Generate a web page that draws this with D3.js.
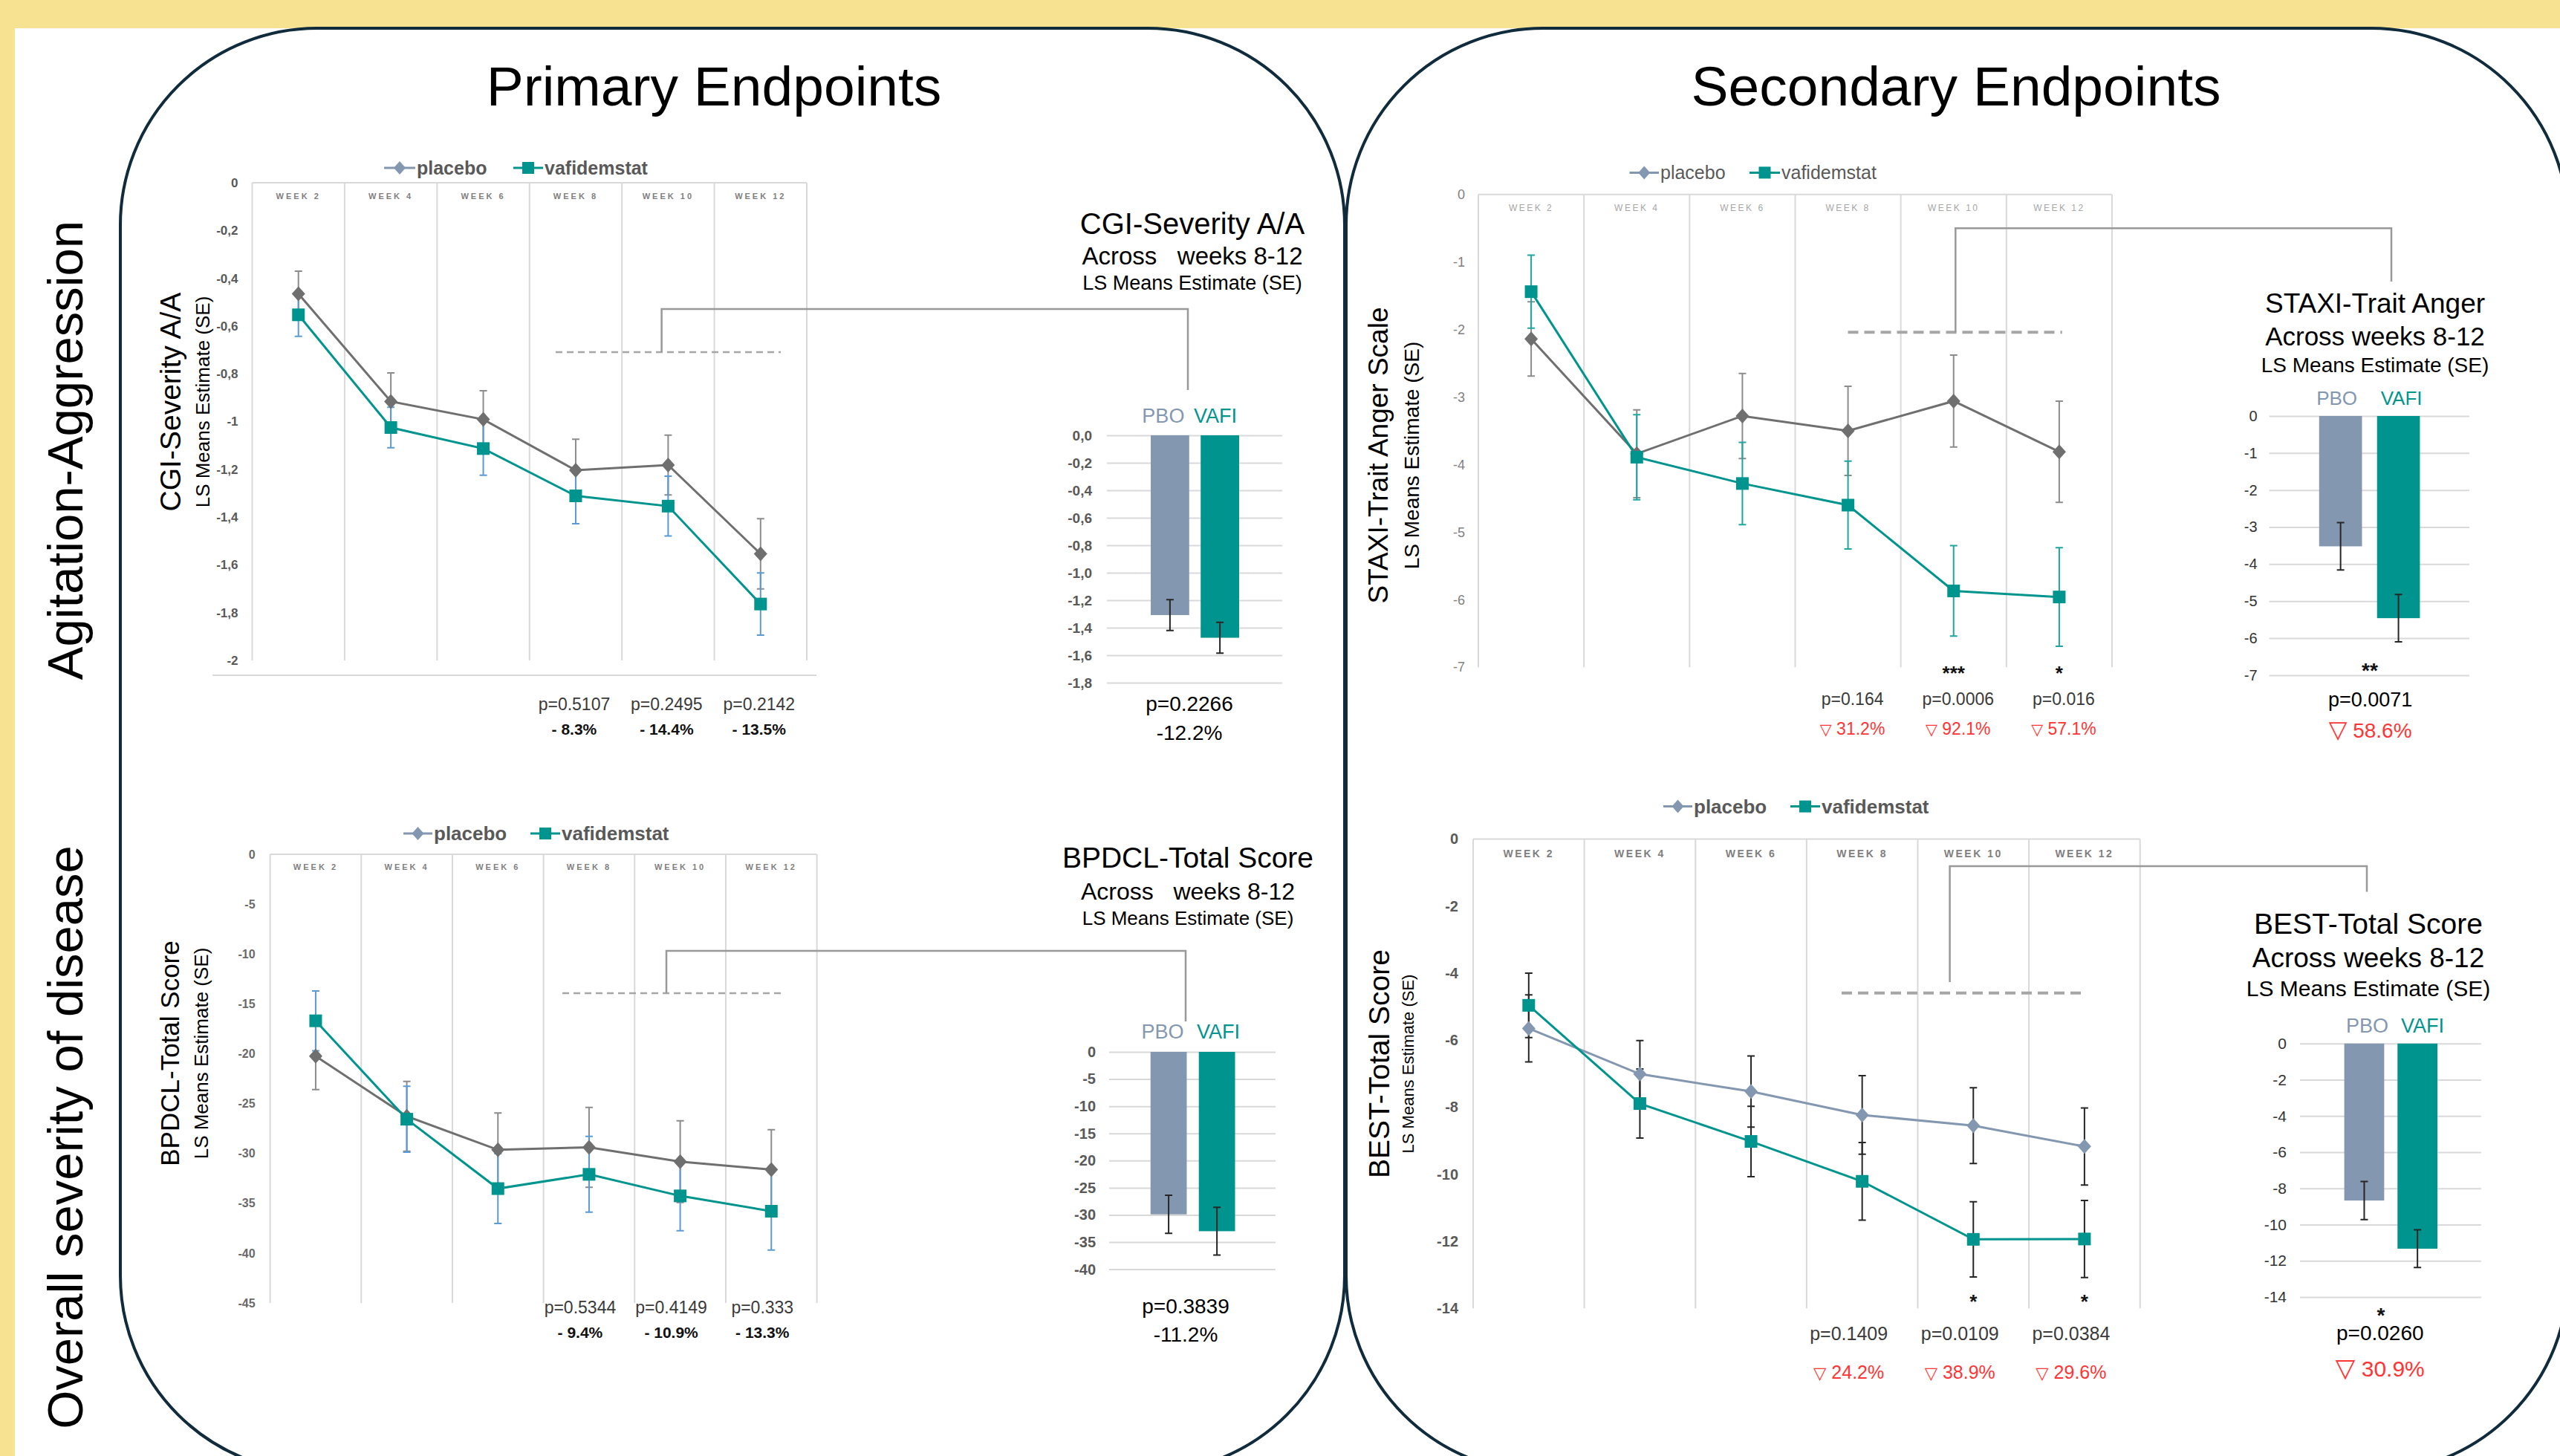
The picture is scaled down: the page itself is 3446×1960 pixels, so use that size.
<!DOCTYPE html>
<html><head><meta charset="utf-8">
<script src="https://cdn.jsdelivr.net/npm/d3@7"></script>
<style>
html,body{margin:0;padding:0;background:#fff;}
svg{display:block;font-family:"Liberation Sans",Arial,Helvetica,sans-serif;}
</style></head><body>
<svg id="chart" width="3446" height="1960"></svg>
<script>
// ---------------- DATA ----------------
const weeks = ["WEEK 2","WEEK 4","WEEK 6","WEEK 8","WEEK 10","WEEK 12"];
const seriesNames = ["placebo","vafidemstat"];
const barGroups = ["PBO","VAFI"];
const panelTitles = ["Primary Endpoints","Secondary Endpoints"];
const rowTitles = ["Agitation-Aggression","Overall severity of disease"];

// CGI-Severity A/A
const cgiPlacebo   = [-0.465,-0.916,-0.991,-1.204,-1.182,-1.554];
const cgiPlaceboSE = [0.095,0.12,0.12,0.13,0.125,0.147];
const cgiVafi      = [-0.553,-1.025,-1.113,-1.311,-1.354,-1.764];
const cgiVafiSE    = [0.09,0.085,0.112,0.117,0.125,0.13];
const cgiTickValues = [0,-0.2,-0.4,-0.6,-0.8,-1,-1.2,-1.4,-1.6,-1.8,-2];
const cgiTickLabels = ["0","-0,2","-0,4","-0,6","-0,8","-1","-1,2","-1,4","-1,6","-1,8","-2"];
const cgiPvals = ["p=0.5107","p=0.2495","p=0.2142"];
const cgiDiffs = ["- 8.3%","- 14.4%","- 13.5%"];
const cgiBar   = [-1.308,-1.473];
const cgiBarSE = [0.112,0.112];
const cgiBarTickValues = [0,-0.2,-0.4,-0.6,-0.8,-1.0,-1.2,-1.4,-1.6,-1.8];
const cgiBarTickLabels = ["0,0","-0,2","-0,4","-0,6","-0,8","-1,0","-1,2","-1,4","-1,6","-1,8"];
const cgiBarTitle = ["CGI-Severity A/A","Across   weeks 8-12","LS Means Estimate (SE)"];
const cgiBarP = "p=0.2266", cgiBarDiff = "-12.2%";

// BPDCL-Total Score
const bpdPlacebo   = [-20.25,-26.28,-29.64,-29.39,-30.83,-31.63];
const bpdPlaceboSE = [3.35,3.5,3.7,4.0,4.1,4.0];
const bpdVafi      = [-16.7,-26.57,-33.53,-32.1,-34.26,-35.8];
const bpdVafiSE    = [3.0,3.3,3.5,3.8,3.5,3.9];
const bpdTickValues = [0,-5,-10,-15,-20,-25,-30,-35,-40,-45];
const bpdTickLabels = ["0","-5","-10","-15","-20","-25","-30","-35","-40","-45"];
const bpdPvals = ["p=0.5344","p=0.4149","p=0.333"];
const bpdDiffs = ["- 9.4%","- 10.9%","- 13.3%"];
const bpdBar   = [-29.9,-33.0];
const bpdBarSE = [3.5,4.4];
const bpdBarTickValues = [0,-5,-10,-15,-20,-25,-30,-35,-40];
const bpdBarTickLabels = ["0","-5","-10","-15","-20","-25","-30","-35","-40"];
const bpdBarTitle = ["BPDCL-Total Score","Across   weeks 8-12","LS Means Estimate (SE)"];
const bpdBarP = "p=0.3839", bpdBarDiff = "-11.2%";

// STAXI-Trait Anger
const staPlacebo   = [-2.14,-3.84,-3.28,-3.50,-3.06,-3.81];
const staPlaceboSE = [0.55,0.65,0.63,0.66,0.68,0.75];
const staVafi      = [-1.44,-3.89,-4.28,-4.60,-5.87,-5.96];
const staVafiSE    = [0.54,0.63,0.61,0.65,0.67,0.73];
const staTickValues = [0,-1,-2,-3,-4,-5,-6,-7];
const staTickLabels = ["0","-1","-2","-3","-4","-5","-6","-7"];
const staPvals = ["p=0.164","p=0.0006","p=0.016"];
const staDiffs = ["31.2%","92.1%","57.1%"];
const staStars = ["","***","*"];
const staBar   = [-3.52,-5.46];
const staBarSE = [0.64,0.64];
const staBarTickValues = [0,-1,-2,-3,-4,-5,-6,-7];
const staBarTickLabels = ["0","-1","-2","-3","-4","-5","-6","-7"];
const staBarTitle = ["STAXI-Trait Anger","Across weeks 8-12","LS Means Estimate (SE)"];
const staBarP = "p=0.0071", staBarDiff = "58.6%", staBarStar = "**";

// BEST-Total Score
const bstPlacebo   = [-5.65,-7.01,-7.53,-8.23,-8.55,-9.17];
const bstPlaceboSE = [1.0,1.0,1.06,1.17,1.13,1.15];
const bstVafi      = [-4.96,-7.89,-9.02,-10.21,-11.94,-11.93];
const bstVafiSE    = [0.96,1.03,1.05,1.16,1.12,1.15];
const bstTickValues = [0,-2,-4,-6,-8,-10,-12,-14];
const bstTickLabels = ["0","-2","-4","-6","-8","-10","-12","-14"];
const bstPvals = ["p=0.1409","p=0.0109","p=0.0384"];
const bstDiffs = ["24.2%","38.9%","29.6%"];
const bstStars = ["","*","*"];
const bstBar   = [-8.67,-11.33];
const bstBarSE = [1.05,1.04];
const bstBarTickValues = [0,-2,-4,-6,-8,-10,-12,-14];
const bstBarTickLabels = ["0","-2","-4","-6","-8","-10","-12","-14"];
const bstBarTitle = ["BEST-Total Score","Across weeks 8-12","LS Means Estimate (SE)"];
const bstBarP = "p=0.0260", bstBarDiff = "30.9%", bstBarStar = "*";

// ---------------- STYLE ----------------
const TEAL = "#00948f", PBOC = "#8497b0", YELLOW = "#f6e290", NAVY = "#0f2b3c";
const RED = "#ff3535", GRID = "#d9d9d9", TRI = "DejaVu Sans, sans-serif";

const svg = d3.select("#chart");
svg.append("rect").attr("width",3446).attr("height",1960).attr("fill","#fff");
svg.append("rect").attr("x",0).attr("y",0).attr("width",3446).attr("height",38).attr("fill",YELLOW);
svg.append("rect").attr("x",0).attr("y",0).attr("width",20).attr("height",1960).attr("fill",YELLOW);

function txt(g, x, y, s, o = {}) {
  const t = g.append("text").attr("x", x).attr("y", y).text(s)
    .attr("font-size", o.size || 20).attr("fill", o.fill || "#000")
    .attr("text-anchor", o.anchor || "middle")
    .attr("font-weight", o.weight || "normal");
  if (o.ls) t.attr("letter-spacing", o.ls);
  if (o.pre) t.style("white-space", "pre");
  if (o.rotate) t.attr("transform", `rotate(-90 ${x} ${y})`);
  return t;
}
const diamond = (x, y, hw, hh) => `M${x},${y-hh}L${x+hw},${y}L${x},${y+hh}L${x-hw},${y}Z`;
const errPath = (x, a, b, w) => `M${x-w},${a}H${x+w}M${x},${a}V${b}M${x-w},${b}H${x+w}`;

// panels
[[162, 1648], [1812, 1645]].forEach(([px, pw]) => {
  svg.append("rect").attr("x", px).attr("y", 38).attr("width", pw).attr("height", 1944)
    .attr("rx", 265).attr("ry", 265).attr("fill", "none").attr("stroke", NAVY).attr("stroke-width", 4);
});
txt(svg, 961, 142, panelTitles[0], {size: 75});
txt(svg, 2633, 142, panelTitles[1], {size: 75});
txt(svg, 111, 606, rowTitles[0], {size: 67, rotate: true});
txt(svg, 111, 1531, rowTitles[1], {size: 67, rotate: true});

// ---------------- LINE CHART ----------------
function lineChart(c) {
  const g = svg.append("g");
  const x = d3.scaleBand().domain(weeks).range([c.x0, c.x1]);
  const cx = i => x(weeks[i]) + x.bandwidth() / 2;
  const tv = c.tickValues;
  const y = d3.scaleLinear().domain([tv[0], tv[tv.length - 1]]).range([c.yTop, c.yBot]);

  if (c.bottomLine) g.append("line").attr("x1", c.bottomLine[0]).attr("x2", c.bottomLine[1])
    .attr("y1", c.bottomLine[2]).attr("y2", c.bottomLine[2]).attr("stroke", GRID).attr("stroke-width", 2);
  g.append("line").attr("x1", c.x0).attr("x2", c.x1).attr("y1", c.yTop).attr("y2", c.yTop)
    .attr("stroke", GRID).attr("stroke-width", 2);
  g.selectAll(null).data(weeks.map(w => x(w)).concat([c.x1])).join("line")
    .attr("x1", d => d).attr("x2", d => d).attr("y1", c.yTop).attr("y2", c.yBot)
    .attr("stroke", GRID).attr("stroke-width", 2);
  g.selectAll(null).data(weeks).join("text")
    .attr("x", (d, i) => cx(i)).attr("y", c.weekY).attr("text-anchor", "middle")
    .attr("font-size", c.weekFont).attr("fill", c.weekColor).attr("font-weight", c.weekWeight)
    .attr("letter-spacing", c.weekLs).text(d => d);

  const ax = d3.axisLeft(y).tickValues(tv).tickFormat((d, i) => c.tickLabels[i]).tickSize(0).tickPadding(c.tickPad);
  const ag = g.append("g").attr("transform", `translate(${c.x0},0)`).call(ax);
  ag.select(".domain").remove();
  ag.attr("font-family", null).attr("font-size", null);
  ag.selectAll("text").attr("font-size", c.tickFont).attr("fill", c.tickColor).attr("font-weight", c.tickWeight);

  // dashed line & bracket
  const dy = y(c.dashValue);
  g.append("line").attr("x1", c.dashX[0]).attr("x2", c.dashX[1]).attr("y1", dy).attr("y2", dy)
    .attr("stroke", "#a6a6a6").attr("stroke-width", c.dashW).attr("stroke-dasharray", c.dashArr);
  const b = c.bracket;
  g.append("path").attr("d", `M${b[0]},${b[1] === null ? dy : b[1]}V${b[2]}H${b[3]}V${b[4]}`)
    .attr("fill", "none").attr("stroke", "#999").attr("stroke-width", 2.5);

  const series = [
    {vals: c.placebo, se: c.placeboSE, color: c.placeboColor, err: c.placeboErr, shape: "d"},
    {vals: c.vafi, se: c.vafiSE, color: TEAL, err: c.vafiErr, shape: "s"}];
  series.forEach(s => {
    g.selectAll(null).data(s.vals).join("path")
      .attr("d", (v, i) => errPath(cx(i), y(v + s.se[i]), y(v - s.se[i]), 5))
      .attr("fill", "none").attr("stroke", s.err).attr("stroke-width", 2);
  });
  series.forEach(s => {
    g.append("path").datum(s.vals)
      .attr("d", d3.line().x((v, i) => cx(i)).y(v => y(v)))
      .attr("fill", "none").attr("stroke", s.color).attr("stroke-width", 3);
  });
  series.forEach(s => {
    if (s.shape === "d")
      g.selectAll(null).data(s.vals).join("path").attr("d", (v, i) => diamond(cx(i), y(v), 9, 10)).attr("fill", s.color);
    else
      g.selectAll(null).data(s.vals).join("rect").attr("x", (v, i) => cx(i) - 8.5).attr("y", v => y(v) - 8.5)
        .attr("width", 17).attr("height", 17).attr("fill", s.color);
  });

  // legend
  [[c.legPl, PBOC, "d", seriesNames[0]], [c.legVf, TEAL, "s", seriesNames[1]]].forEach(([p, col, sh, name]) => {
    g.append("line").attr("x1", p[0]).attr("x2", p[1]).attr("y1", c.legY).attr("y2", c.legY)
      .attr("stroke", col).attr("stroke-width", 3);
    const m = (p[0] + p[1]) / 2;
    if (sh === "d") g.append("path").attr("d", diamond(m, c.legY, 8, 9)).attr("fill", col);
    else g.append("rect").attr("x", m - 8).attr("y", c.legY - 8).attr("width", 16).attr("height", 16).attr("fill", col);
    txt(g, p[1] + 2, c.legY + c.legFont * 0.35, name, {size: c.legFont, anchor: "start", fill: "#595959", weight: c.legWeight});
  });

  // axis titles
  txt(g, c.atX, c.atY, c.axisTitle, {size: c.atFont, rotate: true});
  txt(g, c.asX, c.atY, "LS Means Estimate (SE)", {size: c.asFont, rotate: true});

  // p-values
  g.selectAll(null).data(c.pvals).join("text")
    .attr("x", (d, i) => cx(3 + i) + c.pOff).attr("y", c.pY).attr("text-anchor", "middle")
    .attr("font-size", c.pFont).attr("fill", "#3a3a3a").text(d => d);
  if (c.red) {
    c.diffs.forEach((d, i) => {
      const t = g.append("text").attr("x", cx(3 + i) + c.pOff).attr("y", c.dY).attr("text-anchor", "middle")
        .attr("font-size", c.dFont).attr("fill", RED).style("white-space", "pre");
      t.append("tspan").attr("font-family", TRI).attr("font-size", c.dFont * 0.9).text("\u25BD");
      t.append("tspan").text(" " + d);
    });
  } else {
    g.selectAll(null).data(c.diffs).join("text")
      .attr("x", (d, i) => cx(3 + i) + c.pOff).attr("y", c.dY).attr("text-anchor", "middle")
      .attr("font-size", c.dFont).attr("font-weight", "bold").attr("fill", "#111")
      .style("white-space", "pre").text(d => d);
  }
  if (c.stars) {
    g.selectAll(null).data(c.stars).join("text")
      .attr("x", (d, i) => cx(3 + i)).attr("y", c.starY).attr("text-anchor", "middle")
      .attr("font-size", 26).attr("font-weight", "bold").attr("fill", "#111").text(d => d);
  }
}

// ---------------- BAR CHART ----------------
function barChart(c) {
  const g = svg.append("g");
  const x = d3.scaleBand().domain(barGroups).range([c.bx0, c.bx1]).paddingInner(c.pad);
  const tv = c.tickValues;
  const y = d3.scaleLinear().domain([tv[0], tv[tv.length - 1]]).range([c.y0, c.yMin]);
  const ax = d3.axisLeft(y).tickValues(tv).tickFormat((d, i) => c.tickLabels[i])
    .tickSize(-(c.gx1 - c.gx0)).tickPadding(c.tickPad);
  const ag = g.append("g").attr("transform", `translate(${c.gx0},0)`).call(ax);
  ag.select(".domain").remove();
  ag.attr("font-family", null).attr("font-size", null);
  ag.selectAll("line").attr("stroke", GRID).attr("stroke-width", 2);
  ag.selectAll("text").attr("font-size", c.tickFont).attr("fill", c.tickColor).attr("font-weight", c.tickWeight);

  const colors = [PBOC, TEAL];
  g.selectAll(null).data(c.vals).join("rect")
    .attr("x", (v, i) => x(barGroups[i])).attr("width", x.bandwidth())
    .attr("y", y(0)).attr("height", v => y(v) - y(0)).attr("fill", (v, i) => colors[i]);
  g.selectAll(null).data(c.vals).join("path")
    .attr("d", (v, i) => errPath(x(barGroups[i]) + x.bandwidth() / 2, y(v + c.se[i]), y(v - c.se[i]), 5))
    .attr("fill", "none").attr("stroke", "#262626").attr("stroke-width", 2);
  g.selectAll(null).data(barGroups).join("text")
    .attr("x", (d, i) => x(d) + x.bandwidth() / 2 + c.labOff[i]).attr("y", c.labY).attr("text-anchor", "middle")
    .attr("font-size", c.labFont).attr("fill", (d, i) => colors[i]).text(d => d);

  c.title.forEach((t, i) => txt(g, c.tcx, c.tY[i], t, {size: c.tFont[i], pre: true}));
  if (c.star) txt(g, c.starX, c.starY, c.star, {size: 28, weight: "bold", fill: "#111"});
  txt(g, c.pcx, c.pY, c.p, {size: c.pFont});
  if (c.red) {
    const t = g.append("text").attr("x", c.pcx).attr("y", c.dY).attr("text-anchor", "middle")
      .attr("font-size", c.dFont).attr("fill", RED).style("white-space", "pre");
    t.append("tspan").attr("font-family", TRI).attr("font-size", c.dFont * 1.15).text("\u25BD");
    t.append("tspan").text(" " + c.diff);
  } else {
    txt(g, c.pcx, c.dY, c.diff, {size: c.dFont});
  }
}

// ---------------- CHARTS ----------------
lineChart({
  placebo: cgiPlacebo, placeboSE: cgiPlaceboSE, vafi: cgiVafi, vafiSE: cgiVafiSE,
  tickValues: cgiTickValues, tickLabels: cgiTickLabels, pvals: cgiPvals, diffs: cgiDiffs,
  x0: 339.5, x1: 1086, yTop: 246, yBot: 889, bottomLine: [286, 1099, 909],
  weekY: 268, weekFont: 11, weekColor: "#7f7f7f", weekWeight: "bold", weekLs: 3,
  tickPad: 19, tickFont: 17, tickColor: "#595959", tickWeight: "bold",
  placeboColor: "#6f6f6f", placeboErr: "#8c8c8c", vafiErr: "#5b9bd5",
  dashValue: -0.709, dashX: [748, 1051], dashW: 2.5, dashArr: "9,6",
  bracket: [890.6, null, 416, 1599, 525],
  legY: 226, legPl: [517, 559], legVf: [691, 731], legFont: 25, legWeight: "bold",
  axisTitle: "CGI-Severity A/A", atX: 243, asX: 282, atY: 541, atFont: 39, asFont: 26,
  pOff: -2, pY: 956, pFont: 23, dY: 989, dFont: 21, red: false
});
barChart({
  vals: cgiBar, se: cgiBarSE, tickValues: cgiBarTickValues, tickLabels: cgiBarTickLabels,
  bx0: 1549, bx1: 1668, pad: 0.23, y0: 586, yMin: 919, gx0: 1490, gx1: 1726, tickPad: 20,
  tickFont: 19, tickColor: "#595959", tickWeight: "bold",
  labY: 569, labFont: 27, labOff: [-9, -6],
  title: cgiBarTitle, tcx: 1605, tY: [314.6, 356, 390], tFont: [40, 33, 27],
  p: cgiBarP, diff: cgiBarDiff, pcx: 1601, pY: 957, pFont: 28, dY: 996, dFont: 28, red: false
});

lineChart({
  placebo: bpdPlacebo, placeboSE: bpdPlaceboSE, vafi: bpdVafi, vafiSE: bpdVafiSE,
  tickValues: bpdTickValues, tickLabels: bpdTickLabels, pvals: bpdPvals, diffs: bpdDiffs,
  x0: 363.6, x1: 1099.6, yTop: 1150, yBot: 1754,
  weekY: 1171, weekFont: 11, weekColor: "#7f7f7f", weekWeight: "bold", weekLs: 3,
  tickPad: 20, tickFont: 16, tickColor: "#6a6a6a", tickWeight: "bold",
  placeboColor: "#6f6f6f", placeboErr: "#8c8c8c", vafiErr: "#5b9bd5",
  dashValue: -13.93, dashX: [757, 1055], dashW: 2.5, dashArr: "9,6",
  bracket: [897, null, 1280, 1596, 1375],
  legY: 1122, legPl: [543, 582], legVf: [714, 754], legFont: 26, legWeight: "bold",
  axisTitle: "BPDCL-Total Score", atX: 241, asX: 280, atY: 1418, atFont: 35, asFont: 26,
  pOff: -12, pY: 1768, pFont: 23, dY: 1801, dFont: 21, red: false
});
barChart({
  vals: bpdBar, se: bpdBarSE, tickValues: bpdBarTickValues, tickLabels: bpdBarTickLabels,
  bx0: 1548.7, bx1: 1662.5, pad: 0.25, y0: 1416, yMin: 1708.6, gx0: 1493, gx1: 1717, tickPad: 18,
  tickFont: 20, tickColor: "#595959", tickWeight: "bold",
  labY: 1397.6, labFont: 27, labOff: [-8, 2],
  title: bpdBarTitle, tcx: 1599, tY: [1168.4, 1211, 1244.5], tFont: [39, 32, 26],
  p: bpdBarP, diff: bpdBarDiff, pcx: 1596, pY: 1768.4, pFont: 28, dY: 1805.7, dFont: 28, red: false
});

lineChart({
  placebo: staPlacebo, placeboSE: staPlaceboSE, vafi: staVafi, vafiSE: staVafiSE,
  tickValues: staTickValues, tickLabels: staTickLabels, pvals: staPvals, diffs: staDiffs, stars: staStars,
  x0: 1990, x1: 2843, yTop: 261.7, yBot: 898.2,
  weekY: 284, weekFont: 12, weekColor: "#a6a6a6", weekWeight: "normal", weekLs: 2.5,
  tickPad: 18, tickFont: 18, tickColor: "#7f7f7f", tickWeight: "normal",
  placeboColor: "#6f6f6f", placeboErr: "#8c8c8c", vafiErr: "#1fa6a0",
  dashValue: -2.04, dashX: [2487.5, 2775.8], dashW: 4, dashArr: "14,8",
  bracket: [2632.3, null, 307.3, 3219, 379],
  legY: 232.4, legPl: [2193.5, 2233], legVf: [2355, 2396], legFont: 25, legWeight: "normal",
  axisTitle: "STAXI-Trait Anger Scale", atX: 1868, asX: 1910, atY: 613, atFont: 37, asFont: 28,
  pOff: 6, pY: 949, pFont: 23, dY: 988.7, dFont: 23, red: true, starY: 915
});
barChart({
  vals: staBar, se: staBarSE, tickValues: staBarTickValues, tickLabels: staBarTickLabels,
  bx0: 3121.8, bx1: 3257.4, pad: 0.26, y0: 560, yMin: 908.9, gx0: 3054.6, gx1: 3324, tickPad: 16,
  tickFont: 20, tickColor: "#333", tickWeight: "normal",
  labY: 545, labFont: 26, labOff: [-5, 4],
  title: staBarTitle, tcx: 3197, tY: [421.3, 465.3, 501], tFont: [37, 35, 28],
  star: staBarStar, starX: 3190, starY: 912,
  p: staBarP, diff: staBarDiff, pcx: 3190.6, pY: 951, pFont: 27, dY: 992.6, dFont: 28, red: true
});

lineChart({
  placebo: bstPlacebo, placeboSE: bstPlaceboSE, vafi: bstVafi, vafiSE: bstVafiSE,
  tickValues: bstTickValues, tickLabels: bstTickLabels, pvals: bstPvals, diffs: bstDiffs, stars: bstStars,
  x0: 1983, x1: 2880.7, yTop: 1129.5, yBot: 1761.3,
  weekY: 1154, weekFont: 14, weekColor: "#7f7f7f", weekWeight: "bold", weekLs: 2.5,
  tickPad: 20, tickFont: 20, tickColor: "#595959", tickWeight: "bold",
  placeboColor: PBOC, placeboErr: "#262626", vafiErr: "#262626",
  dashValue: -4.59, dashX: [2479, 2808], dashW: 4, dashArr: "14,8",
  bracket: [2624.6, 1322, 1166, 3186, 1200.5],
  legY: 1085.6, legPl: [2239, 2278], legVf: [2410, 2450], legFont: 26, legWeight: "bold",
  axisTitle: "BEST-Total Score", atX: 1870, asX: 1903, atY: 1432, atFont: 39, asFont: 22,
  pOff: -18, pY: 1804, pFont: 25, dY: 1855.5, dFont: 25, red: true, starY: 1761
});
barChart({
  vals: bstBar, se: bstBarSE, tickValues: bstBarTickValues, tickLabels: bstBarTickLabels,
  bx0: 3155.6, bx1: 3281, pad: 0.25, y0: 1404.8, yMin: 1746, gx0: 3096, gx1: 3339.8, tickPad: 18,
  tickFont: 21, tickColor: "#333", tickWeight: "normal",
  labY: 1389.7, labFont: 27, labOff: [4, 7],
  title: bstBarTitle, tcx: 3188, tY: [1256.5, 1301.5, 1340.5], tFont: [39, 37, 30],
  star: bstBarStar, starX: 3205, starY: 1780,
  p: bstBarP, diff: bstBarDiff, pcx: 3203.8, pY: 1804.3, pFont: 28, dY: 1852.5, dFont: 30, red: true
});
</script>
</body></html>
